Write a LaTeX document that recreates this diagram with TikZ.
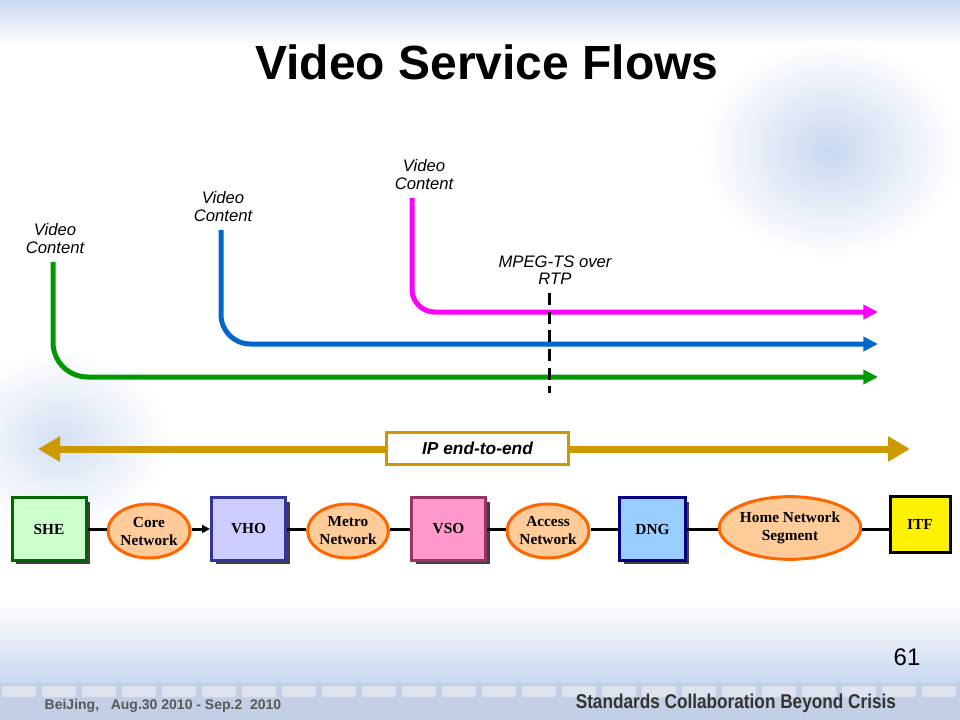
\documentclass[tikz,border=0pt]{standalone}
\usepackage{fontspec}
\setmainfont{Liberation Sans}
\newfontfamily\serifb{Liberation Serif}
\usetikzlibrary{arrows.meta,shapes.geometric,shadows}
\definecolor{flowgreen}{HTML}{009A00}
\definecolor{flowblue}{HTML}{0066CC}
\definecolor{flowmag}{HTML}{FF00FF}
\definecolor{gold}{HTML}{CC9900}
\definecolor{bgblue}{HTML}{C9D8F0}
\definecolor{ellfill}{HTML}{FFCC99}
\definecolor{elldraw}{HTML}{FF6600}
\definecolor{shefill}{HTML}{CCFFCC}
\definecolor{shedraw}{HTML}{006600}
\definecolor{vhofill}{HTML}{CCCCFF}
\definecolor{vhodraw}{HTML}{333399}
\definecolor{vsofill}{HTML}{FF99CC}
\definecolor{vsodraw}{HTML}{993366}
\definecolor{dngfill}{HTML}{99CCFF}
\definecolor{dngdraw}{HTML}{000080}
\definecolor{shadowgray}{HTML}{404040}
\tikzset{
  flow/.style={line width=3.75pt, rounded corners=24pt, -{Triangle[length=11pt,width=10.5pt]}},
  lbl/.style={font=\fontsize{12.5}{13}\selectfont\itshape, align=center, inner sep=1pt, anchor=south},
  boxnode/.style={draw, line width=2.25pt, font=\serifb\bfseries\fontsize{11.5}{13.5}\selectfont,
     minimum width=55.5pt, minimum height=47pt, inner sep=0pt,
     drop shadow={shadow xshift=3pt, shadow yshift=-3pt, fill=shadowgray, opacity=1}},
  ellnode/.style={ellipse, draw=elldraw, fill=ellfill, line width=2.25pt, inner sep=0pt,
     font=\serifb\bfseries\fontsize{11.5}{13.5}\selectfont, align=center},
  link/.style={line width=2.25pt, black}
}
\begin{document}
\begin{tikzpicture}[x=0.75pt,y=-0.75pt]
% background
\useasboundingbox (0,0) rectangle (960,720);
\fill[white] (0,0) rectangle (960,720);
\shade[top color=white, bottom color=bgblue] (0,600) rectangle (960,683);
\shade[top color=bgblue, bottom color=white] (0,0) rectangle (960,45);
\shade[inner color=bgblue, outer color=white] (830,150) ellipse (130 and 110);
\shade[inner color=bgblue!80, outer color=white] (60,440) ellipse (110 and 90);
\fill[bgblue!90!gray] (0,683) rectangle (960,720);
\foreach \i in {0,...,23}{
  \fill[white, opacity=0.45, rounded corners=1pt] ({\i*40+2},686) rectangle ({\i*40+36},697);
}
\node[font=\fontsize{10.5}{12}\selectfont\bfseries, text=gray!70!black, anchor=west] (venue) at (40,706) {BeiJing,\ \ \ Aug.30 2010 - Sep.2\ \ 2010};
\node[font=\fontsize{15}{17}\selectfont\bfseries, text=black!80, anchor=east, xscale=0.86, transform shape] (motto) at (900,703) {Standards Collaboration Beyond Crisis};

% title and page number
\node[font=\fontsize{36}{40}\selectfont\bfseries] (title) at (487,62) {Video Service Flows};
\node[font=\fontsize{18}{20}\selectfont] (page) at (907,657) {61};

% video flows
\coordinate (g0) at (53,262);   \coordinate (g1) at (878,377);
\coordinate (b0) at (221,230);  \coordinate (b1) at (878,344);
\coordinate (m0) at (412,198);  \coordinate (m1) at (878,312);
\draw[flow, flowgreen, rounded corners=26pt] (g0) |- (g1);
\draw[flow, flowblue, rounded corners=22pt] (b0) |- (b1);
\draw[flow, flowmag, rounded corners=17pt] (m0) |- (m1);
\node[lbl] (vcg) at (55,255) {Video\\Content};
\node[lbl] (vcb) at (223,223) {Video\\Content};
\node[lbl] (vcm) at (424,191) {Video\\Content};

% MPEG-TS marker
\coordinate (d0) at (549,293); \coordinate (d1) at (549,393);
\draw[line width=2.25pt, dash pattern=on 9pt off 5pt] (d0) -- (d1);
\node[lbl] (mpeg) at (555,286) {MPEG-TS over\\RTP};

% IP end-to-end
\coordinate (ipL) at (38,449); \coordinate (ipR) at (910,449);
\draw[gold, line width=5.25pt, {Triangle[length=16.5pt,width=18pt]}-{Triangle[length=16.5pt,width=18pt]}] (ipL) -- (ipR);
\node[draw=gold, fill=white, line width=2.25pt, minimum width=137pt, minimum height=24pt,
      font=\fontsize{13}{15}\selectfont\bfseries\itshape] (ip) at (477.5,448) {IP end-to-end};

% network elements
\node[boxnode, draw=shedraw, fill=shefill] (she) at (49,529) {SHE};
\node[ellnode, minimum width=61.5pt, minimum height=40.5pt] (core) at (149,531) {Core\\Network};
\node[boxnode, draw=vhodraw, fill=vhofill] (vho) at (248.5,529) {VHO};
\node[ellnode, minimum width=60pt, minimum height=40.5pt] (metro) at (348,531) {Metro\\Network};
\node[boxnode, draw=vsodraw, fill=vsofill] (vso) at (448.5,529) {VSO};
\node[ellnode, minimum width=61.5pt, minimum height=40.5pt] (access) at (548,531) {Access\\Network};
\node[boxnode, draw=dngdraw, fill=dngfill, minimum width=49pt] (dng) at (652.5,529) {DNG};
\node[ellnode, minimum width=100.5pt, minimum height=47pt] (home) at (790,528) {Home Network\\Segment};
\node[draw, fill=yellow, line width=2.25pt, minimum width=45pt, minimum height=42pt, inner sep=0pt,
      font=\serifb\bfseries\fontsize{11.5}{13.5}\selectfont] (itf) at (920,524) {ITF};

\draw[link] (she.east) -- (she.east -| core.west);
\draw[link, -{Triangle[length=6pt,width=6pt]}] (core.east |- vho.west) -- (vho.west);
\draw[link] (vho.east) -- (vho.east -| metro.west);
\draw[link] (metro.east |- vso.west) -- (vso.west);
\draw[link] (vso.east) -- (vso.east -| access.west);
\draw[link] (access.east |- dng.west) -- (dng.west);
\draw[link] (dng.east) -- (dng.east -| home.west);
\draw[link] (home.east |- dng.east) -- (home.east |- dng.east -| itf.west);
\end{tikzpicture}
\end{document}
